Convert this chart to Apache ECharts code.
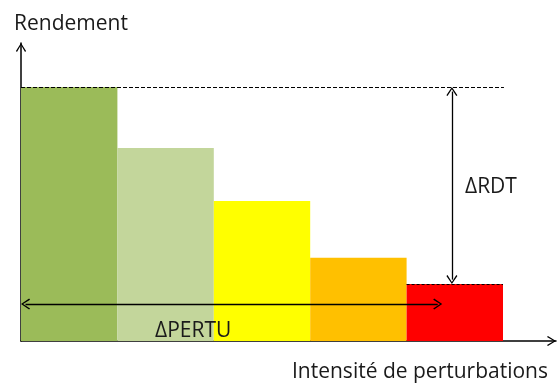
<!DOCTYPE html>
<html>
<head>
<meta charset="utf-8">
<script src="https://cdn.jsdelivr.net/npm/echarts@6/dist/echarts.min.js"></script>
<style>
  html, body { margin: 0; background: #fff; }
  #chart { width: 560px; height: 383px; }
</style>
</head>
<body>
<div id="chart"></div>
<script>
// valeurs (echelle arbitraire 0-100)
const categories = ["P1", "P2", "P3", "P4", "P5"];
const rendement = [85.2, 64.8, 47.0, 27.9, 19.1];
const barColors = ["#9BBB59", "#C3D69B", "#FFFF00", "#FFC000", "#FF0000"];
const yMax = 100;
const xMax = 5.55; // axe des perturbations, 1 unite = 1 classe
// annotations
const rdtArrowX = 4.47;
const pertuArrowEnd = 4.37;
const pertuArrowY = 12.4;
const topDashEnd = 5.01;
// demi-hauteur de la fleche, en unites des axes (pointe sur l'extremite)
const headY = 1.5;
const headX = 0.047;

const chevron = "path://M5,0 L10,8 L9,8.9 L5,2.1 L1,8.9 L0,8 Z";
const font = "'Open Sans', sans-serif";

let myChart = echarts.init(document.getElementById("chart"));
let option = {
  animation: false,
  grid: [
    { left: 21, right: 57, top: 43, bottom: 42 },
    { left: 21, right: 4, top: 43, bottom: 42 },
  ],
  xAxis: [
    {
      type: "category",
      gridIndex: 0,
      data: categories,
      show: false,
    },
    {
      type: "value",
      gridIndex: 1,
      min: 0,
      max: xMax,
      axisLabel: { show: false },
      axisTick: { show: false },
      splitLine: { show: false },
      axisLine: {
        show: true,
        symbol: ["none", chevron],
        symbolSize: [11, 9],
        symbolOffset: [0, -4.5],
        lineStyle: { color: "#000", width: 1.5 },
      },
    },
  ],
  yAxis: [
    { type: "value", gridIndex: 0, min: 0, max: yMax, show: false },
    {
      type: "value",
      gridIndex: 1,
      min: 0,
      max: yMax,
      axisLabel: { show: false },
      axisTick: { show: false },
      splitLine: { show: false },
      axisLine: {
        show: true,
        symbol: ["none", chevron],
        symbolSize: [11, 9],
        symbolOffset: [0, -4.5],
        lineStyle: { color: "#000", width: 1.5 },
      },
    },
  ],
  series: [
    {
      type: "bar",
      xAxisIndex: 0,
      yAxisIndex: 0,
      barWidth: "100%",
      data: rendement.map((v, i) => ({ value: v, itemStyle: { color: barColors[i] } })),
    },
    {
      type: "line",
      xAxisIndex: 1,
      yAxisIndex: 1,
      data: [],
      markLine: {
        silent: true,
        symbolSize: [11, 9],
        label: { show: false },
        data: [
          [
            { coord: [0, rendement[0]], symbol: "none", lineStyle: { color: "#000", type: [4, 2], width: 1 } },
            { coord: [topDashEnd, rendement[0]], symbol: "none" },
          ],
          [
            { coord: [4, rendement[4]], symbol: "none", lineStyle: { color: "#000", type: [3, 2], width: 1 } },
            { coord: [5, rendement[4]], symbol: "none" },
          ],
          [
            { coord: [rdtArrowX, rendement[0] - headY], symbol: chevron, lineStyle: { color: "#000", type: "solid", width: 1.3 } },
            { coord: [rdtArrowX, rendement[4] + headY], symbol: chevron },
          ],
          [
            { coord: [headX, pertuArrowY], symbol: chevron, lineStyle: { color: "#000", type: "solid", width: 1.3 } },
            { coord: [pertuArrowEnd - headX, pertuArrowY], symbol: chevron },
          ],
        ],
      },
    },
  ],
  graphic: [
    { type: "text", z: 100, left: 14, top: 14, style: { text: "Rendement", font: "21px " + font, fill: "#1a1a1a" } },
    { type: "text", z: 100, right: 12, top: 362, style: { text: "Intensité de perturbations", font: "21px " + font, fill: "#1a1a1a" } },
    { type: "text", z: 100, left: 155, top: 321, style: { text: "ΔPERTU", font: "21px " + font, fill: "#1a1a1a" } },
    { type: "text", z: 100, left: 465, top: 177, style: { text: "ΔRDT", font: "21px " + font, fill: "#1a1a1a" } },
  ],
};
myChart.setOption(option);
</script>
</body>
</html>
